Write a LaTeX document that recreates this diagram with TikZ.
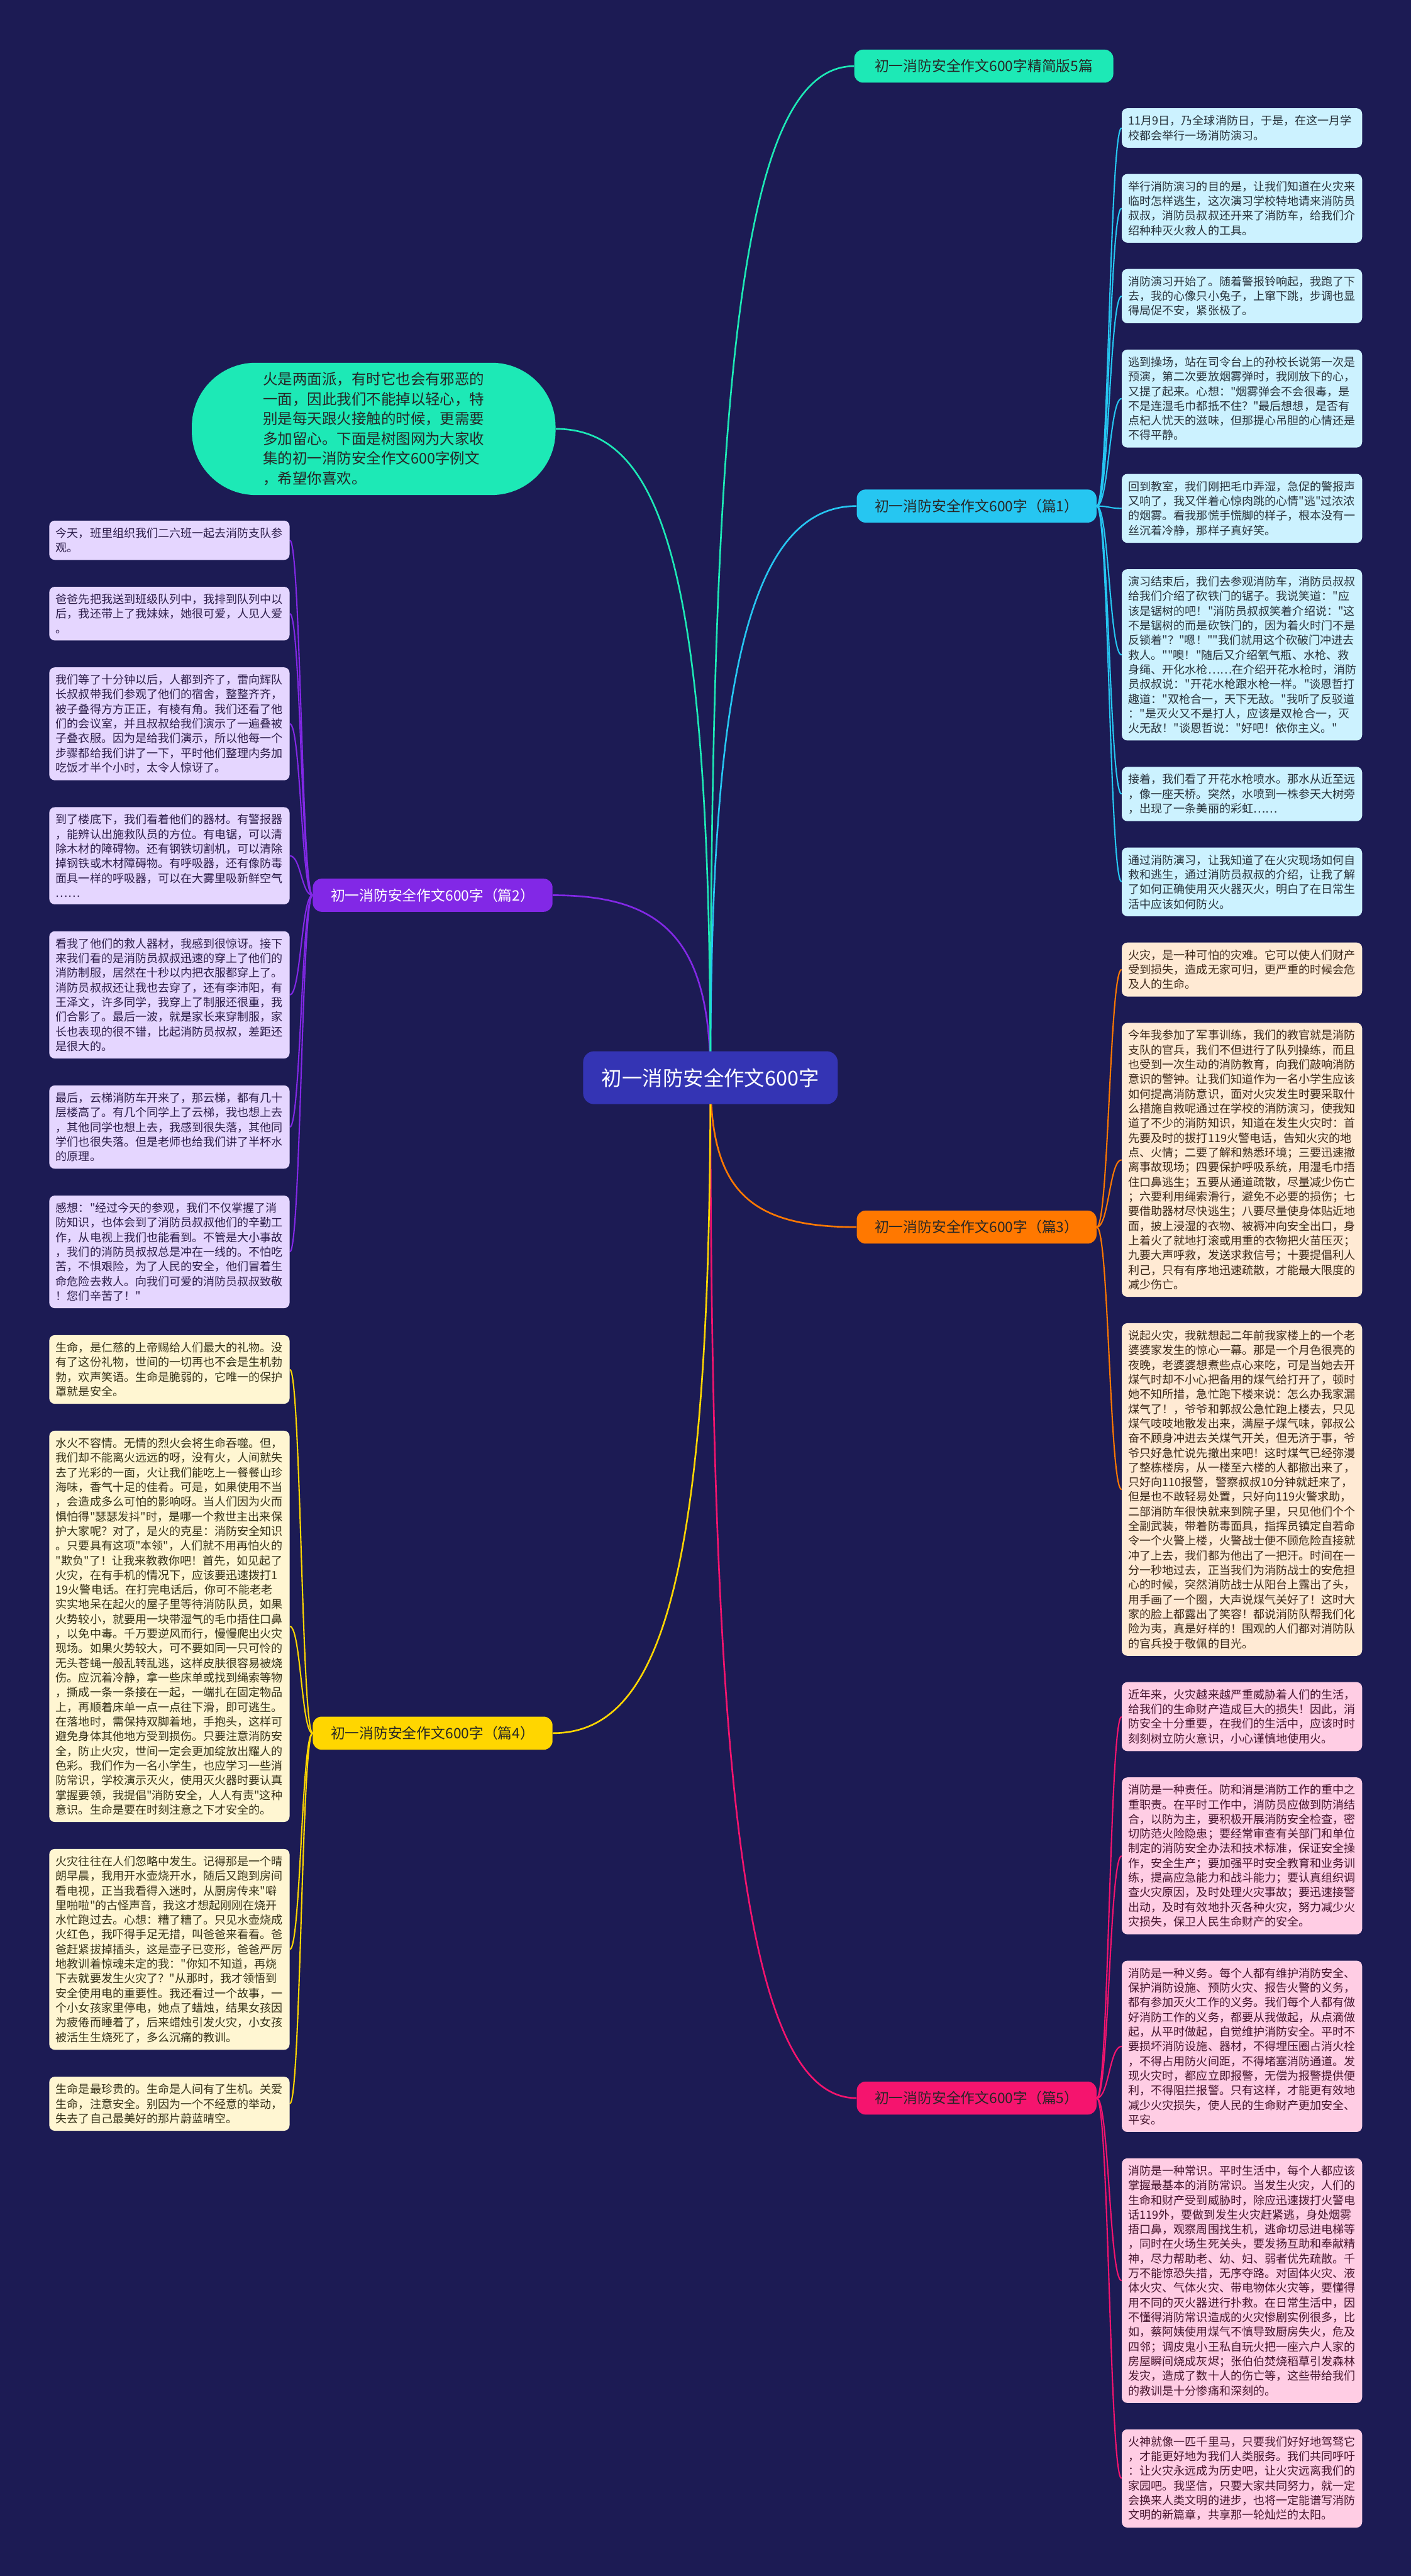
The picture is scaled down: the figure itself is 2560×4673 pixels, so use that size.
\documentclass[tikz,border=0pt]{standalone}
\usepackage{fontspec}
\setmainfont{Noto Sans CJK SC}
\newfontfamily\cjk{Noto Sans CJK SC}
\usetikzlibrary{backgrounds}
\definecolor{bg}{RGB}{28,27,84}
\definecolor{rootc}{RGB}{52,52,180}
\definecolor{cteal}{RGB}{29,233,182}
\definecolor{ccyan}{RGB}{38,198,241}
\definecolor{cpurple}{RGB}{130,40,230}
\definecolor{corange}{RGB}{255,120,0}
\definecolor{cyellow}{RGB}{255,214,0}
\definecolor{cpink}{RGB}{245,20,110}
\definecolor{fcyan}{RGB}{204,242,255}
\definecolor{fpeach}{RGB}{255,234,212}
\definecolor{fpink}{RGB}{255,205,228}
\definecolor{flav}{RGB}{229,214,255}
\definecolor{fcream}{RGB}{255,246,210}
\definecolor{tcyan}{RGB}{40,50,60}
\definecolor{tpeach}{RGB}{60,40,25}
\definecolor{tpink}{RGB}{70,20,45}
\definecolor{tlav}{RGB}{45,30,75}
\definecolor{tcream}{RGB}{55,50,25}
\begin{document}
\begin{tikzpicture}[x=0.5pt,y=-0.5pt,
  leaf/.style={rounded corners=5pt, align=left, text width=206pt, inner xsep=6pt, inner ysep=6.4pt,
    font=\cjk\fontsize{10.3pt}{13.3pt}\selectfont, anchor=north west},
  branch/.style={rounded corners=8pt, minimum width=217.5pt, minimum height=30pt, inner sep=0pt,
    font=\cjk\fontsize{13pt}{15pt}\selectfont},
  conn/.style={line width=1.5pt},
  lconn/.style={line width=1.2pt}]
\begin{scope}[on background layer]
\fill[bg] (0,0) rectangle (2560,4673);
\end{scope}
\useasboundingbox (0,0) rectangle (2560,4673);

% root
\node[fill=rootc, text=white, rounded corners=10pt, minimum width=231pt, minimum height=48pt,
  font=\cjk\fontsize{18.5pt}{20pt}\selectfont] (root) at (1289,1955) {初一消防安全作文600字};

% branches
\node[branch, fill=cteal, text=black!85, minimum width=235pt] (g) at (1785,120) {初一消防安全作文600字精简版5篇};
\node[branch, fill=ccyan, text=black!85] (b1) at (1772,918) {初一消防安全作文600字（篇1）};
\node[branch, fill=corange, text=black!85] (b3) at (1772,2226) {初一消防安全作文600字（篇3）};
\node[branch, fill=cpink, text=black!85] (b5) at (1772,3806) {初一消防安全作文600字（篇5）};
\node[branch, fill=cpurple, text=white] (b2) at (785,1624) {初一消防安全作文600字（篇2）};
\node[branch, fill=cyellow, text=black!85] (b4) at (785,3144) {初一消防安全作文600字（篇4）};

% intro bubble
\node[fill=cteal, text=black!85, rounded corners=58pt, minimum width=330pt, minimum height=120pt,
  align=left, text width=201pt, font=\cjk\fontsize{13.4pt}{18pt}\selectfont] (intro) at (678,778)
  {火是两面派，有时它也会有邪恶的\\一面，因此我们不能掉以轻心，特\\别是每天跟火接触的时候，更需要\\多加留心。下面是树图网为大家收\\集的初一消防安全作文600字例文\\，希望你喜欢。};

% right leaves: cyan
\node[leaf, fill=fcyan, text=tcyan] (r1) at (2035,196) {11月9日，乃全球消防日，于是，在这一月学\\校都会举行一场消防演习。};
\node[leaf, fill=fcyan, text=tcyan] (r2) at ([yshift=-23.5pt]r1.south west) {举行消防演习的目的是，让我们知道在火灾来\\临时怎样逃生，这次演习学校特地请来消防员\\叔叔，消防员叔叔还开来了消防车，给我们介\\绍种种灭火救人的工具。};
\node[leaf, fill=fcyan, text=tcyan] (r3) at ([yshift=-23.5pt]r2.south west) {消防演习开始了。随着警报铃响起，我跑了下\\去，我的心像只小兔子，上窜下跳，步调也显\\得局促不安，紧张极了。};
\node[leaf, fill=fcyan, text=tcyan] (r4) at ([yshift=-23.5pt]r3.south west) {逃到操场，站在司令台上的孙校长说第一次是\\预演，第二次要放烟雾弹时，我刚放下的心，\\又提了起来。心想："烟雾弹会不会很毒，是\\不是连湿毛巾都抵不住？"最后想想，是否有\\点杞人忧天的滋味，但那提心吊胆的心情还是\\不得平静。};
\node[leaf, fill=fcyan, text=tcyan] (r5) at ([yshift=-23.5pt]r4.south west) {回到教室，我们刚把毛巾弄湿，急促的警报声\\又响了，我又伴着心惊肉跳的心情"逃"过浓浓\\的烟雾。看我那慌手慌脚的样子，根本没有一\\丝沉着冷静，那样子真好笑。};
\node[leaf, fill=fcyan, text=tcyan] (r6) at ([yshift=-23.5pt]r5.south west) {演习结束后，我们去参观消防车，消防员叔叔\\给我们介绍了砍铁门的锯子。我说笑道："应\\该是锯树的吧！"消防员叔叔笑着介绍说："这\\不是锯树的而是砍铁门的，因为着火时门不是\\反锁着"？"嗯！""我们就用这个砍破门冲进去\\救人。""噢！"随后又介绍氧气瓶、水枪、救\\身绳、开化水枪……在介绍开花水枪时，消防\\员叔叔说："开花水枪跟水枪一样。"谈恩哲打\\趣道："双枪合一，天下无敌。"我听了反驳道\\："是灭火又不是打人，应该是双枪合一，灭\\火无敌！"谈恩哲说："好吧！依你主义。"};
\node[leaf, fill=fcyan, text=tcyan] (r7) at ([yshift=-23.5pt]r6.south west) {接着，我们看了开花水枪喷水。那水从近至远\\，像一座天桥。突然，水喷到一株参天大树旁\\，出现了一条美丽的彩虹……};
\node[leaf, fill=fcyan, text=tcyan] (r8) at ([yshift=-23.5pt]r7.south west) {通过消防演习，让我知道了在火灾现场如何自\\救和逃生，通过消防员叔叔的介绍，让我了解\\了如何正确使用灭火器灭火，明白了在日常生\\活中应该如何防火。};
% peach
\node[leaf, fill=fpeach, text=tpeach] (r9) at ([yshift=-23.5pt]r8.south west) {火灾，是一种可怕的灾难。它可以使人们财产\\受到损失，造成无家可归，更严重的时候会危\\及人的生命。};
\node[leaf, fill=fpeach, text=tpeach] (r10) at ([yshift=-23.5pt]r9.south west) {今年我参加了军事训练，我们的教官就是消防\\支队的官兵，我们不但进行了队列操练，而且\\也受到一次生动的消防教育，向我们敲响消防\\意识的警钟。让我们知道作为一名小学生应该\\如何提高消防意识，面对火灾发生时要采取什\\么措施自救呢通过在学校的消防演习，使我知\\道了不少的消防知识，知道在发生火灾时：首\\先要及时的拔打119火警电话，告知火灾的地\\点、火情；二要了解和熟悉环境；三要迅速撤\\离事故现场；四要保护呼吸系统，用湿毛巾捂\\住口鼻逃生；五要从通道疏散，尽量减少伤亡\\；六要利用绳索滑行，避免不必要的损伤；七\\要借助器材尽快逃生；八要尽量使身体贴近地\\面，披上浸湿的衣物、被褥冲向安全出口，身\\上着火了就地打滚或用重的衣物把火苗压灭；\\九要大声呼救，发送求救信号；十要提倡利人\\利己，只有有序地迅速疏散，才能最大限度的\\减少伤亡。};
\node[leaf, fill=fpeach, text=tpeach] (r11) at ([yshift=-23.5pt]r10.south west) {说起火灾，我就想起二年前我家楼上的一个老\\婆婆家发生的惊心一幕。那是一个月色很亮的\\夜晚，老婆婆想煮些点心来吃，可是当她去开\\煤气时却不小心把备用的煤气给打开了，顿时\\她不知所措，急忙跑下楼来说：怎么办我家漏\\煤气了！，爷爷和郭叔公急忙跑上楼去，只见\\煤气吱吱地散发出来，满屋子煤气味，郭叔公\\奋不顾身冲进去关煤气开关，但无济于事，爷\\爷只好急忙说先撤出来吧！这时煤气已经弥漫\\了整栋楼房，从一楼至六楼的人都撤出来了，\\只好向110报警，警察叔叔10分钟就赶来了，\\但是也不敢轻易处置，只好向119火警求助，\\二部消防车很快就来到院子里，只见他们个个\\全副武装，带着防毒面具，指挥员镇定自若命\\令一个火警上楼，火警战士便不顾危险直接就\\冲了上去，我们都为他出了一把汗。时间在一\\分一秒地过去，正当我们为消防战士的安危担\\心的时候，突然消防战士从阳台上露出了头，\\用手画了一个圈，大声说煤气关好了！这时大\\家的脸上都露出了笑容！都说消防队帮我们化\\险为夷，真是好样的！围观的人们都对消防队\\的官兵投于敬佩的目光。};
% pink
\node[leaf, fill=fpink, text=tpink] (r12) at ([yshift=-23.5pt]r11.south west) {近年来，火灾越来越严重威胁着人们的生活，\\给我们的生命财产造成巨大的损失！因此，消\\防安全十分重要，在我们的生活中，应该时时\\刻刻树立防火意识，小心谨慎地使用火。};
\node[leaf, fill=fpink, text=tpink] (r13) at ([yshift=-23.5pt]r12.south west) {消防是一种责任。防和消是消防工作的重中之\\重职责。在平时工作中，消防员应做到防消结\\合，以防为主，要积极开展消防安全检查，密\\切防范火险隐患；要经常审查有关部门和单位\\制定的消防安全办法和技术标准，保证安全操\\作，安全生产；要加强平时安全教育和业务训\\练，提高应急能力和战斗能力；要认真组织调\\查火灾原因，及时处理火灾事故；要迅速接警\\出动，及时有效地扑灭各种火灾，努力减少火\\灾损失，保卫人民生命财产的安全。};
\node[leaf, fill=fpink, text=tpink] (r14) at ([yshift=-23.5pt]r13.south west) {消防是一种义务。每个人都有维护消防安全、\\保护消防设施、预防火灾、报告火警的义务，\\都有参加灭火工作的义务。我们每个人都有做\\好消防工作的义务，都要从我做起，从点滴做\\起，从平时做起，自觉维护消防安全。平时不\\要损坏消防设施、器材，不得埋压圈占消火栓\\，不得占用防火间距，不得堵塞消防通道。发\\现火灾时，都应立即报警，无偿为报警提供便\\利，不得阻拦报警。只有这样，才能更有效地\\减少火灾损失，使人民的生命财产更加安全、\\平安。};
\node[leaf, fill=fpink, text=tpink] (r15) at ([yshift=-23.5pt]r14.south west) {消防是一种常识。平时生活中，每个人都应该\\掌握最基本的消防常识。当发生火灾，人们的\\生命和财产受到威胁时，除应迅速拨打火警电\\话119外，要做到发生火灾赶紧逃，身处烟雾\\捂口鼻，观察周围找生机，逃命切忌进电梯等\\，同时在火场生死关头，要发扬互助和奉献精\\神，尽力帮助老、幼、妇、弱者优先疏散。千\\万不能惊恐失措，无序夺路。对固体火灾、液\\体火灾、气体火灾、带电物体火灾等，要懂得\\用不同的灭火器进行扑救。在日常生活中，因\\不懂得消防常识造成的火灾惨剧实例很多，比\\如，蔡阿姨使用煤气不慎导致厨房失火，危及\\四邻；调皮鬼小王私自玩火把一座六户人家的\\房屋瞬间烧成灰烬；张伯伯焚烧稻草引发森林\\发灾，造成了数十人的伤亡等，这些带给我们\\的教训是十分惨痛和深刻的。};
\node[leaf, fill=fpink, text=tpink] (r16) at ([yshift=-23.5pt]r15.south west) {火神就像一匹千里马，只要我们好好地驾驽它\\，才能更好地为我们人类服务。我们共同呼吁\\：让火灾永远成为历史吧，让火灾远离我们的\\家园吧。我坚信，只要大家共同努力，就一定\\会换来人类文明的进步，也将一定能谱写消防\\文明的新篇章，共享那一轮灿烂的太阳。};

% left leaves: lavender
\node[leaf, fill=flav, text=tlav] (l1) at (89,944) {今天，班里组织我们二六班一起去消防支队参\\观。};
\node[leaf, fill=flav, text=tlav] (l2) at ([yshift=-24pt]l1.south west) {爸爸先把我送到班级队列中，我排到队列中以\\后，我还带上了我妹妹，她很可爱，人见人爱\\。};
\node[leaf, fill=flav, text=tlav] (l3) at ([yshift=-24pt]l2.south west) {我们等了十分钟以后，人都到齐了，雷向辉队\\长叔叔带我们参观了他们的宿舍，整整齐齐，\\被子叠得方方正正，有棱有角。我们还看了他\\们的会议室，并且叔叔给我们演示了一遍叠被\\子叠衣服。因为是给我们演示，所以他每一个\\步骤都给我们讲了一下，平时他们整理内务加\\吃饭才半个小时，太令人惊讶了。};
\node[leaf, fill=flav, text=tlav] (l4) at ([yshift=-24pt]l3.south west) {到了楼底下，我们看着他们的器材。有警报器\\，能辨认出施救队员的方位。有电锯，可以清\\除木材的障碍物。还有钢铁切割机，可以清除\\掉钢铁或木材障碍物。有呼吸器，还有像防毒\\面具一样的呼吸器，可以在大雾里吸新鲜空气\\……};
\node[leaf, fill=flav, text=tlav] (l5) at ([yshift=-24pt]l4.south west) {看我了他们的救人器材，我感到很惊讶。接下\\来我们看的是消防员叔叔迅速的穿上了他们的\\消防制服，居然在十秒以内把衣服都穿上了。\\消防员叔叔还让我也去穿了，还有李沛阳，有\\王泽文，许多同学，我穿上了制服还很重，我\\们合影了。最后一波，就是家长来穿制服，家\\长也表现的很不错，比起消防员叔叔，差距还\\是很大的。};
\node[leaf, fill=flav, text=tlav] (l6) at ([yshift=-24pt]l5.south west) {最后，云梯消防车开来了，那云梯，都有几十\\层楼高了。有几个同学上了云梯，我也想上去\\，其他同学也想上去，我感到很失落，其他同\\学们也很失落。但是老师也给我们讲了半杯水\\的原理。};
\node[leaf, fill=flav, text=tlav] (l7) at ([yshift=-24pt]l6.south west) {感想："经过今天的参观，我们不仅掌握了消\\防知识，也体会到了消防员叔叔他们的辛勤工\\作，从电视上我们也能看到。不管是大小事故\\，我们的消防员叔叔总是冲在一线的。不怕吃\\苦，不惧艰险，为了人民的安全，他们冒着生\\命危险去救人。向我们可爱的消防员叔叔致敬\\！您们辛苦了！"};
% cream
\node[leaf, fill=fcream, text=tcream] (l8) at ([yshift=-24pt]l7.south west) {生命，是仁慈的上帝赐给人们最大的礼物。没\\有了这份礼物，世间的一切再也不会是生机勃\\勃，欢声笑语。生命是脆弱的，它唯一的保护\\罩就是安全。};
\node[leaf, fill=fcream, text=tcream] (l9) at ([yshift=-24pt]l8.south west) {水火不容情。无情的烈火会将生命吞噬。但，\\我们却不能离火远远的呀，没有火，人间就失\\去了光彩的一面，火让我们能吃上一餐餐山珍\\海味，香气十足的佳肴。可是，如果使用不当\\，会造成多么可怕的影响呀。当人们因为火而\\惧怕得"瑟瑟发抖"时，是哪一个救世主出来保\\护大家呢？对了，是火的克星：消防安全知识\\。只要具有这项"本领"，人们就不用再怕火的\\"欺负"了！让我来教教你吧！首先，如见起了\\火灾，在有手机的情况下，应该要迅速拨打1\\19火警电话。在打完电话后，你可不能老老\\实实地呆在起火的屋子里等待消防队员，如果\\火势较小，就要用一块带湿气的毛巾捂住口鼻\\，以免中毒。千万要逆风而行，慢慢爬出火灾\\现场。如果火势较大，可不要如同一只可怜的\\无头苍蝇一般乱转乱逃，这样皮肤很容易被烧\\伤。应沉着冷静，拿一些床单或找到绳索等物\\，撕成一条一条接在一起，一端扎在固定物品\\上，再顺着床单一点一点往下滑，即可逃生。\\在落地时，需保持双脚着地，手抱头，这样可\\避免身体其他地方受到损伤。只要注意消防安\\全，防止火灾，世间一定会更加绽放出耀人的\\色彩。我们作为一名小学生，也应学习一些消\\防常识，学校演示灭火，使用灭火器时要认真\\掌握要领，我提倡"消防安全，人人有责"这种\\意识。生命是要在时刻注意之下才安全的。};
\node[leaf, fill=fcream, text=tcream] (l10) at ([yshift=-24pt]l9.south west) {火灾往往在人们忽略中发生。记得那是一个晴\\朗早晨，我用开水壶烧开水，随后又跑到房间\\看电视，正当我看得入迷时，从厨房传来"噼\\里啪啦"的古怪声音，我这才想起刚刚在烧开\\水忙跑过去。心想：糟了糟了。只见水壶烧成\\火红色，我吓得手足无措，叫爸爸来看看。爸\\爸赶紧拔掉插头，这是壶子已变形，爸爸严厉\\地教训着惊魂未定的我："你知不知道，再烧\\下去就要发生火灾了？"从那时，我才领悟到\\安全使用电的重要性。我还看过一个故事，一\\个小女孩家里停电，她点了蜡烛，结果女孩因\\为疲倦而睡着了，后来蜡烛引发火灾，小女孩\\被活生生烧死了，多么沉痛的教训。};
\node[leaf, fill=fcream, text=tcream] (l11) at ([yshift=-24pt]l10.south west) {生命是最珍贵的。生命是人间有了生机。关爱\\生命，注意安全。别因为一个不经意的举动，\\失去了自己最美好的那片蔚蓝晴空。};

% connectors
\begin{scope}[on background layer]
\draw[conn, cteal] (root.center) .. controls +(0,-1300) and +(-200,0) .. (g.west);
\draw[conn, ccyan] (root.center) .. controls +(0,-700) and +(-200,0) .. (b1.west);
\draw[conn, corange] (root.center) .. controls +(0,200) and +(-200,0) .. (b3.west);
\draw[conn, cpink] (root.center) .. controls +(0,1300) and +(-200,0) .. (b5.west);
\draw[conn, cpurple] (root.center) .. controls +(0,-250) and +(200,0) .. (b2.east);
\draw[conn, cyellow] (root.center) .. controls +(0,900) and +(200,0) .. (b4.east);
\draw[conn, cteal] (root.center) .. controls +(0,-900) and +(200,0) .. (intro.east);
\foreach \n in {r1,r2,r3,r4,r5,r6,r7,r8}
  \draw[lconn, ccyan] (b1.east) .. controls +(22,0) and +(-22,0) .. (\n.west);
\foreach \n in {r9,r10,r11}
  \draw[lconn, corange] (b3.east) .. controls +(22,0) and +(-22,0) .. (\n.west);
\foreach \n in {r12,r13,r14,r15,r16}
  \draw[lconn, cpink] (b5.east) .. controls +(22,0) and +(-22,0) .. (\n.west);
\foreach \n in {l1,l2,l3,l4,l5,l6,l7}
  \draw[lconn, cpurple] (b2.west) .. controls +(-20,0) and +(20,0) .. (\n.east);
\foreach \n in {l8,l9,l10,l11}
  \draw[lconn, cyellow] (b4.west) .. controls +(-20,0) and +(20,0) .. (\n.east);
\end{scope}
\end{tikzpicture}
\end{document}
